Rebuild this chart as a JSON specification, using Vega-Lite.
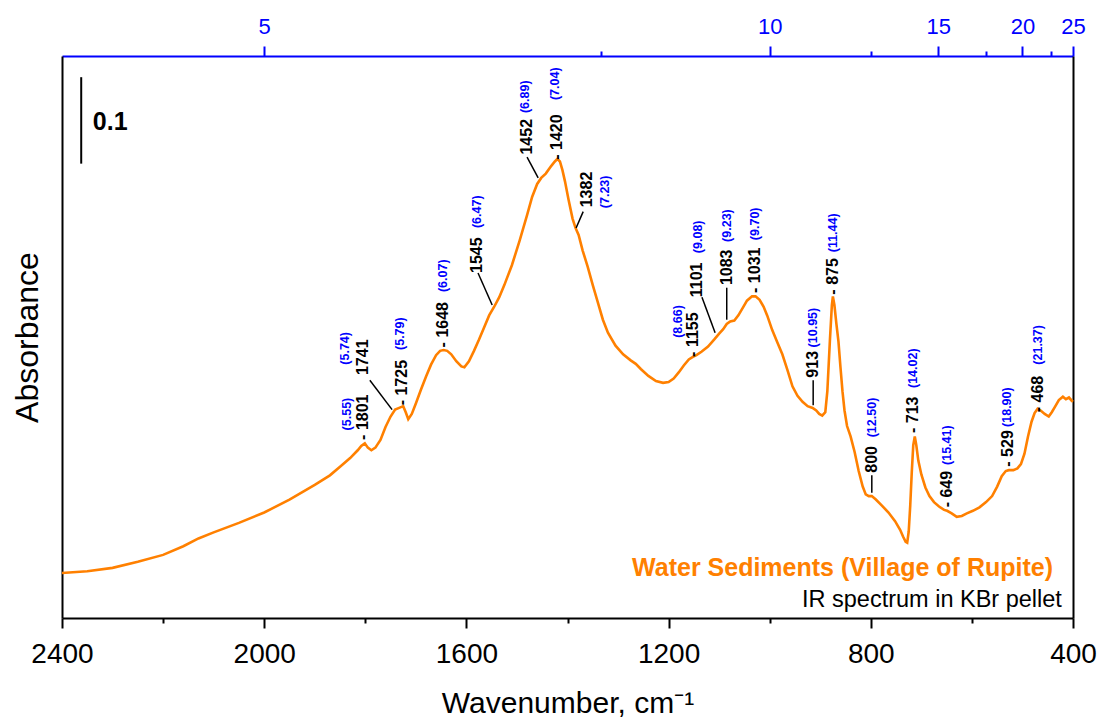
{
  "$schema": "https://vega.github.io/schema/vega-lite/v6.json",
  "width": 1011,
  "height": 562,
  "autosize": "none",
  "padding": {"left": 62, "top": 56, "right": 26, "bottom": 104},
  "config": {"view": {"stroke": null}, "font": "Liberation Sans", "axis": {"grid": false}},
  "datasets": {
    "spectrum": [
      {"wn":2400,"abs":0.052},{"wn":2350,"abs":0.054},{"wn":2300,"abs":0.058},{"wn":2250,"abs":0.065},{"wn":2200,"abs":0.073},{"wn":2160,"abs":0.083},{"wn":2130,"abs":0.092},{"wn":2100,"abs":0.099},{"wn":2050,"abs":0.110},{"wn":2000,"abs":0.122},{"wn":1950,"abs":0.137},{"wn":1900,"abs":0.154},{"wn":1870,"abs":0.165},{"wn":1850,"abs":0.175},{"wn":1830,"abs":0.185},{"wn":1815,"abs":0.194},{"wn":1808,"abs":0.199},{"wn":1801,"abs":0.202},{"wn":1795,"abs":0.197},{"wn":1788,"abs":0.194},{"wn":1780,"abs":0.197},{"wn":1770,"abs":0.206},{"wn":1760,"abs":0.221},{"wn":1750,"abs":0.233},{"wn":1741,"abs":0.241},{"wn":1733,"abs":0.243},{"wn":1725,"abs":0.245},{"wn":1720,"abs":0.238},{"wn":1715,"abs":0.230},{"wn":1708,"abs":0.236},{"wn":1700,"abs":0.248},{"wn":1690,"abs":0.264},{"wn":1680,"abs":0.279},{"wn":1670,"abs":0.293},{"wn":1660,"abs":0.304},{"wn":1652,"abs":0.309},{"wn":1645,"abs":0.310},{"wn":1638,"abs":0.309},{"wn":1630,"abs":0.305},{"wn":1620,"abs":0.297},{"wn":1610,"abs":0.291},{"wn":1604,"abs":0.290},{"wn":1595,"abs":0.297},{"wn":1585,"abs":0.309},{"wn":1575,"abs":0.322},{"wn":1565,"abs":0.336},{"wn":1555,"abs":0.350},{"wn":1545,"abs":0.360},{"wn":1535,"abs":0.371},{"wn":1525,"abs":0.385},{"wn":1510,"abs":0.408},{"wn":1495,"abs":0.436},{"wn":1480,"abs":0.466},{"wn":1470,"abs":0.487},{"wn":1460,"abs":0.502},{"wn":1452,"abs":0.509},{"wn":1443,"abs":0.514},{"wn":1432,"abs":0.523},{"wn":1425,"abs":0.528},{"wn":1420,"abs":0.531},{"wn":1415,"abs":0.528},{"wn":1410,"abs":0.518},{"wn":1405,"abs":0.505},{"wn":1398,"abs":0.484},{"wn":1390,"abs":0.462},{"wn":1384,"abs":0.451},{"wn":1378,"abs":0.443},{"wn":1370,"abs":0.425},{"wn":1360,"abs":0.406},{"wn":1350,"abs":0.385},{"wn":1340,"abs":0.365},{"wn":1330,"abs":0.345},{"wn":1320,"abs":0.330},{"wn":1305,"abs":0.315},{"wn":1290,"abs":0.305},{"wn":1275,"abs":0.298},{"wn":1265,"abs":0.294},{"wn":1255,"abs":0.288},{"wn":1240,"abs":0.280},{"wn":1225,"abs":0.274},{"wn":1211,"abs":0.272},{"wn":1200,"abs":0.273},{"wn":1190,"abs":0.277},{"wn":1180,"abs":0.284},{"wn":1170,"abs":0.292},{"wn":1160,"abs":0.299},{"wn":1152,"abs":0.302},{"wn":1145,"abs":0.304},{"wn":1135,"abs":0.308},{"wn":1122,"abs":0.314},{"wn":1110,"abs":0.322},{"wn":1100,"abs":0.329},{"wn":1092,"abs":0.334},{"wn":1085,"abs":0.340},{"wn":1078,"abs":0.343},{"wn":1070,"abs":0.344},{"wn":1062,"abs":0.350},{"wn":1053,"abs":0.359},{"wn":1045,"abs":0.367},{"wn":1035,"abs":0.372},{"wn":1028,"abs":0.372},{"wn":1020,"abs":0.368},{"wn":1012,"abs":0.360},{"wn":1005,"abs":0.350},{"wn":995,"abs":0.333},{"wn":985,"abs":0.319},{"wn":975,"abs":0.305},{"wn":965,"abs":0.287},{"wn":955,"abs":0.268},{"wn":945,"abs":0.257},{"wn":935,"abs":0.250},{"wn":925,"abs":0.245},{"wn":915,"abs":0.243},{"wn":908,"abs":0.240},{"wn":902,"abs":0.236},{"wn":896,"abs":0.234},{"wn":890,"abs":0.238},{"wn":886,"abs":0.262},{"wn":881,"abs":0.320},{"wn":877,"abs":0.362},{"wn":875,"abs":0.372},{"wn":872,"abs":0.362},{"wn":868,"abs":0.340},{"wn":864,"abs":0.320},{"wn":860,"abs":0.290},{"wn":856,"abs":0.262},{"wn":852,"abs":0.240},{"wn":847,"abs":0.222},{"wn":840,"abs":0.210},{"wn":832,"abs":0.192},{"wn":824,"abs":0.170},{"wn":816,"abs":0.152},{"wn":810,"abs":0.143},{"wn":804,"abs":0.141},{"wn":798,"abs":0.141},{"wn":790,"abs":0.137},{"wn":778,"abs":0.130},{"wn":765,"abs":0.122},{"wn":752,"abs":0.112},{"wn":742,"abs":0.102},{"wn":736,"abs":0.094},{"wn":731,"abs":0.088},{"wn":728,"abs":0.087},{"wn":725,"abs":0.100},{"wn":722,"abs":0.130},{"wn":719,"abs":0.168},{"wn":716,"abs":0.200},{"wn":713,"abs":0.210},{"wn":710,"abs":0.200},{"wn":706,"abs":0.182},{"wn":700,"abs":0.166},{"wn":692,"abs":0.151},{"wn":684,"abs":0.141},{"wn":675,"abs":0.134},{"wn":665,"abs":0.129},{"wn":655,"abs":0.125},{"wn":649,"abs":0.124},{"wn":640,"abs":0.121},{"wn":630,"abs":0.117},{"wn":620,"abs":0.118},{"wn":610,"abs":0.121},{"wn":598,"abs":0.124},{"wn":585,"abs":0.128},{"wn":572,"abs":0.134},{"wn":560,"abs":0.141},{"wn":550,"abs":0.152},{"wn":541,"abs":0.164},{"wn":533,"abs":0.170},{"wn":527,"abs":0.171},{"wn":518,"abs":0.171},{"wn":510,"abs":0.173},{"wn":503,"abs":0.178},{"wn":496,"abs":0.190},{"wn":489,"abs":0.210},{"wn":482,"abs":0.227},{"wn":476,"abs":0.237},{"wn":470,"abs":0.242},{"wn":464,"abs":0.240},{"wn":456,"abs":0.236},{"wn":448,"abs":0.233},{"wn":442,"abs":0.238},{"wn":436,"abs":0.244},{"wn":428,"abs":0.252},{"wn":420,"abs":0.256},{"wn":414,"abs":0.253},{"wn":408,"abs":0.255},{"wn":402,"abs":0.251},{"wn":400,"abs":0.250}
    ],
    "peaks": [
      {"t":"- 1801","wn":1804.5,"a":0.206},
      {"t":"1741","wn":1804.5,"a":0.281},
      {"t":"- 1725","wn":1727,"a":0.246},
      {"t":"- 1648","wn":1646,"a":0.313},
      {"t":"1545","wn":1579,"a":0.399},
      {"t":"1452","wn":1480,"a":0.536},
      {"t":"- 1420","wn":1421,"a":0.530},
      {"t":"1382","wn":1361,"a":0.475},
      {"t":"- 1155","wn":1152,"a":0.302},
      {"t":"1101","wn":1144,"a":0.371},
      {"t":"1083","wn":1084.5,"a":0.385},
      {"t":"- 1031","wn":1029,"a":0.376},
      {"t":"913","wn":914,"a":0.278},
      {"t":"- 875","wn":875,"a":0.374},
      {"t":"800","wn":798,"a":0.168},
      {"t":"- 713","wn":716.5,"a":0.214},
      {"t":"- 649","wn":649,"a":0.128},
      {"t":"- 529","wn":529,"a":0.175},
      {"t":"- 468","wn":469,"a":0.238}
    ],
    "microns": [
      {"t":"(5.55)","wn":1836,"a":0.217},
      {"t":"(5.74)","wn":1840,"a":0.293},
      {"t":"(5.79)","wn":1731,"a":0.310},
      {"t":"(6.07)","wn":1646,"a":0.377},
      {"t":"(6.47)","wn":1579,"a":0.451},
      {"t":"(6.89)","wn":1484,"a":0.584},
      {"t":"(7.04)","wn":1425,"a":0.599},
      {"t":"(7.23)","wn":1326,"a":0.474},
      {"t":"(8.66)","wn":1181,"a":0.324},
      {"t":"(9.08)","wn":1142,"a":0.422},
      {"t":"(9.23)","wn":1084.5,"a":0.435},
      {"t":"(9.70)","wn":1029,"a":0.437},
      {"t":"(10.95)","wn":914,"a":0.313},
      {"t":"(11.44)","wn":875,"a":0.423},
      {"t":"(12.50)","wn":798,"a":0.209},
      {"t":"(14.02)","wn":716.5,"a":0.266},
      {"t":"(15.41)","wn":649,"a":0.177},
      {"t":"(18.90)","wn":531,"a":0.221},
      {"t":"(21.37)","wn":469,"a":0.293}
    ],
    "leaders": [
      {"wn":1791,"wn2":1747,"a":0.275,"a2":0.241},
      {"wn":1577,"wn2":1549,"a":0.399,"a2":0.362},
      {"wn":1480,"wn2":1458,"a":0.533,"a2":0.509},
      {"wn":1369,"wn2":1383,"a":0.470,"a2":0.451},
      {"wn":1134,"wn2":1108,"a":0.371,"a2":0.330},
      {"wn":1085,"wn2":1085,"a":0.382,"a2":0.345},
      {"wn":914,"wn2":914,"a":0.275,"a2":0.246},
      {"wn":798,"wn2":798,"a":0.165,"a2":0.145}
    ]
  },
  "layer": [
    {
      "data": {"name": "spectrum"},
      "mark": {"type": "line", "color": "#FF8000", "strokeWidth": 2.6},
      "encoding": {
        "x": {"field": "wn", "type": "quantitative",
          "scale": {"domain": [400, 2400], "reverse": true, "nice": false, "zero": false},
          "axis": {"orient": "bottom", "values": [2400,2200,2000,1800,1600,1400,1200,1000,800,600,400],
            "labelExpr": "datum.value % 400 == 0 ? format(datum.value, 'd') : ''",
            "tickSize": {"condition": {"test": "datum.value % 400 == 0", "value": 10}, "value": 5},
            "tickWidth": 2, "tickColor": "black", "domainColor": "black", "domainWidth": 2,
            "labelFontSize": 28, "labelColor": "black", "labelPadding": 12, "labelFlush": false, "labelOverlap": false,
            "title": "Wavenumber, cm⁻¹", "titleFontSize": 30, "titleFontWeight": "normal", "titleColor": "black", "titlePadding": 20}},
        "y": {"field": "abs", "type": "quantitative",
          "scale": {"domain": [0, 0.65], "nice": false, "zero": false},
          "axis": {"orient": "left", "ticks": false, "labels": false, "domainColor": "black", "domainWidth": 2,
            "title": "Absorbance", "titleFontSize": 32, "titleFontWeight": "normal", "titleColor": "black", "titlePadding": 18}}
      }
    },
    {
      "data": {"name": "leaders"},
      "mark": {"type": "rule", "color": "black", "strokeWidth": 1.5},
      "encoding": {
        "x": {"field": "wn", "type": "quantitative",
          "axis": {"orient": "top", "values": [2000, 1333.3333, 1000, 800, 666.6667, 571.4286, 500, 444.4444, 400],
            "labelExpr": "abs(10000/datum.value - round(10000/datum.value)) < 0.01 && round(10000/datum.value) % 5 == 0 ? format(10000/datum.value, 'd') : ''",
            "tickSize": {"condition": {"test": "abs(10000/datum.value - round(10000/datum.value)) < 0.01 && round(10000/datum.value) % 5 == 0", "value": 10}, "value": 5},
            "tickWidth": 2, "tickColor": "#0000FF", "domainColor": "#0000FF", "domainWidth": 2,
            "labelFontSize": 22, "labelColor": "#0000FF", "labelPadding": 8, "labelFlush": false, "labelOverlap": false, "title": null}},
        "x2": {"field": "wn2"},
        "y": {"field": "a", "type": "quantitative",
          "axis": {"orient": "right", "ticks": false, "labels": false, "domainColor": "black", "domainWidth": 2, "title": null}},
        "y2": {"field": "a2"}
      }
    },
    {
      "data": {"values": [{"wn": 2362, "a": 0.6255, "a2": 0.5255}]},
      "mark": {"type": "rule", "color": "black", "strokeWidth": 2},
      "encoding": {
        "x": {"field": "wn", "type": "quantitative", "axis": null},
        "y": {"field": "a", "type": "quantitative", "axis": null},
        "y2": {"field": "a2"}
      }
    },
    {
      "data": {"values": [{"t": "0.1", "wn": 2339, "a": 0.574}]},
      "mark": {"type": "text", "align": "left", "baseline": "middle", "fontSize": 25, "fontWeight": "bold", "color": "black"},
      "encoding": {
        "x": {"field": "wn", "type": "quantitative", "axis": null},
        "y": {"field": "a", "type": "quantitative", "axis": null},
        "text": {"field": "t"}
      }
    },
    {
      "data": {"name": "peaks"},
      "mark": {"type": "text", "angle": 270, "align": "left", "baseline": "middle", "fontSize": 16, "fontWeight": "bold", "color": "black"},
      "encoding": {
        "x": {"field": "wn", "type": "quantitative", "axis": null},
        "y": {"field": "a", "type": "quantitative", "axis": null},
        "text": {"field": "t"}
      }
    },
    {
      "data": {"name": "microns"},
      "mark": {"type": "text", "angle": 270, "align": "left", "baseline": "middle", "fontSize": 12.5, "fontWeight": "bold", "color": "#0000FF"},
      "encoding": {
        "x": {"field": "wn", "type": "quantitative", "axis": null},
        "y": {"field": "a", "type": "quantitative", "axis": null},
        "text": {"field": "t"}
      }
    },
    {
      "data": {"values": [{"t": "Water Sediments (Village of Rupite)", "wn": 439.6, "a": 0.0486}]},
      "mark": {"type": "text", "align": "right", "baseline": "alphabetic", "fontSize": 25, "fontWeight": "bold", "color": "#FF8000"},
      "encoding": {
        "x": {"field": "wn", "type": "quantitative", "axis": null},
        "y": {"field": "a", "type": "quantitative", "axis": null},
        "text": {"field": "t"}
      }
    },
    {
      "data": {"values": [{"t": "IR spectrum in KBr pellet", "wn": 422, "a": 0.0127}]},
      "mark": {"type": "text", "align": "right", "baseline": "alphabetic", "fontSize": 23.5, "color": "black"},
      "encoding": {
        "x": {"field": "wn", "type": "quantitative", "axis": null},
        "y": {"field": "a", "type": "quantitative", "axis": null},
        "text": {"field": "t"}
      }
    }
  ],
  "resolve": {"axis": {"x": "independent", "y": "independent"}}
}
